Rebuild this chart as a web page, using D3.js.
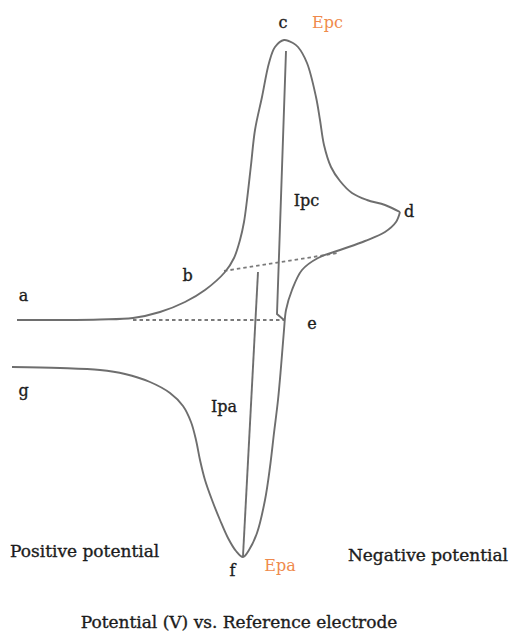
<!DOCTYPE html>
<html>
<head>
<meta charset="utf-8">
<script src="https://cdn.jsdelivr.net/npm/d3@7"></script>
<style>
  html, body { margin: 0; padding: 0; background: #ffffff; }
  svg { display: block; }
  text { font-family: "DejaVu Serif", "Liberation Serif", serif; }
</style>
</head>
<body>
<svg id="cv" width="510" height="635"></svg>
<script>
// Cyclic voltammogram (schematic): potential E in V (positive to the left),
// current I in µA (cathodic current drawn upward).

// Forward (cathodic) scan: a -> b -> c -> d
const forwardE = [0.972, 0.800, 0.640, 0.508, 0.400, 0.300, 0.220, 0.140, 0.104, 0.080,
                  0.064, 0.052, 0.036, 0.020, -0.008, -0.036, -0.060, -0.096, -0.132, -0.152,
                  -0.188, -0.224, -0.240, -0.256, -0.284, -0.320, -0.368, -0.428, -0.500, -0.560];
const forwardI = [0.0, 0.0, 0.1, 0.4, 1.6, 3.6, 6.0, 9.6, 12.4, 16.0,
                  19.6, 24.0, 31.0, 38.0, 44.6, 51.4, 54.6, 56.0, 55.4, 54.6,
                  51.4, 44.6, 40.0, 35.0, 30.6, 27.8, 25.4, 24.0, 23.0, 21.6];

// Reverse (anodic) scan: d -> e -> f -> g
const reverseE = [-0.560, -0.544, -0.500, -0.420, -0.320, -0.232, -0.168, -0.128, -0.104, -0.096,
                  -0.084, -0.072, -0.056, -0.040, -0.020, 0.012, 0.044, 0.068, 0.096, 0.128,
                  0.160, 0.192, 0.220, 0.240, 0.256, 0.276, 0.308, 0.360, 0.440, 0.540,
                  0.640, 0.800, 0.992];
const reverseI = [21.6, 19.6, 17.6, 15.8, 14.0, 12.4, 10.0, 6.0, 2.0, -2.0,
                  -9.4, -16.0, -22.6, -29.4, -36.0, -42.6, -46.0, -47.4, -46.2, -43.6,
                  -40.0, -36.0, -32.0, -28.0, -24.0, -20.4, -17.2, -14.6, -12.4, -10.8,
                  -10.0, -9.6, -9.4];

// Peak current markers (Ipc from cathodic peak down to baseline, Ipa from anodic peak up to extrapolated baseline)
const ipcE = [-0.104, -0.068, -0.096];
const ipcI = [53.8, 1.2, 0.0];
const ipaE = [0.008, 0.068];
const ipaI = [9.6, -47.2];

// Extrapolated baselines (dashed)
const baseUpperE = [0.144, -0.312];
const baseUpperI = [9.8, 13.4];
const baseLowerE = [0.508, -0.100];
const baseLowerI = [0.0, 0.0];

// Point labels and peak names, placed at (E, I)
const labelText = ["a", "b", "c", "Epc", "Ipc", "d", "e", "g", "Ipa", "f", "Epa"];
const labelE    = [0.946, 0.290, -0.092, -0.270, -0.186, -0.596, -0.208, 0.946, 0.144, 0.110, -0.080];
const labelI    = [3.8, 7.8, 58.4, 58.4, 22.8, 20.6, -1.8, -15.2, -18.4, -51.2, -50.2];
const labelKind = ["pt", "pt", "pt", "peak", "pt", "pt", "pt", "pt", "pt", "pt", "peak"];

const sideLabels = ["Positive potential", "Negative potential"];
const axisTitle = "Potential (V) vs. Reference electrode";

const svg = d3.select("#cv");

const x = d3.scaleLinear().domain([1, -1]).range([10, 510]);
const y = d3.scaleLinear().domain([-60, 60]).range([620, 20]);

const zip = (es, is) => es.map((e, i) => ({ E: e, I: is[i] }));

const smooth = d3.line()
  .x(d => x(d.E)).y(d => y(d.I))
  .curve(d3.curveCatmullRom.alpha(0.5));
const straight = d3.line()
  .x(d => x(d.E)).y(d => y(d.I));

const curveColor = "#6e6e6e";
const textColor = "#1c1c1c";

// baselines
[[baseUpperE, baseUpperI], [baseLowerE, baseLowerI]].forEach(([es, is]) => {
  svg.append("path")
    .attr("d", straight(zip(es, is)))
    .attr("fill", "none")
    .attr("stroke", "#7a7a7a")
    .attr("stroke-width", 1.8)
    .attr("stroke-dasharray", "3.5,3");
});

// voltammogram
[[forwardE, forwardI], [reverseE, reverseI]].forEach(([es, is]) => {
  svg.append("path")
    .attr("d", smooth(zip(es, is)))
    .attr("fill", "none")
    .attr("stroke", curveColor)
    .attr("stroke-width", 1.9)
    .attr("stroke-linejoin", "round");
});

// peak current markers
[[ipcE, ipcI], [ipaE, ipaI]].forEach(([es, is]) => {
  svg.append("path")
    .attr("d", straight(zip(es, is)))
    .attr("fill", "none")
    .attr("stroke", curveColor)
    .attr("stroke-width", 1.9);
});

// labels
svg.append("g").selectAll("text")
  .data(labelText.map((t, i) => ({ t, E: labelE[i], I: labelI[i], k: labelKind[i] })))
  .join("text")
  .attr("x", d => x(d.E))
  .attr("y", d => y(d.I))
  .attr("text-anchor", "middle")
  .attr("font-size", 16)
  .attr("fill", d => d.k === "peak" ? "#ef8a4c" : textColor)
  .attr("stroke", d => d.k === "peak" ? "none" : textColor)
  .attr("stroke-width", 0.35)
  .text(d => d.t);

const bottom = svg.append("g")
  .attr("font-size", 17)
  .attr("fill", textColor)
  .attr("stroke", textColor)
  .attr("stroke-width", 0.35);

bottom.append("text")
  .attr("x", 10).attr("y", 557)
  .text(sideLabels[0]);

bottom.append("text")
  .attr("x", 508).attr("y", 561)
  .attr("text-anchor", "end")
  .text(sideLabels[1]);

bottom.append("text")
  .attr("x", 239).attr("y", 628)
  .attr("text-anchor", "middle")
  .text(axisTitle);
</script>
</body>
</html>
